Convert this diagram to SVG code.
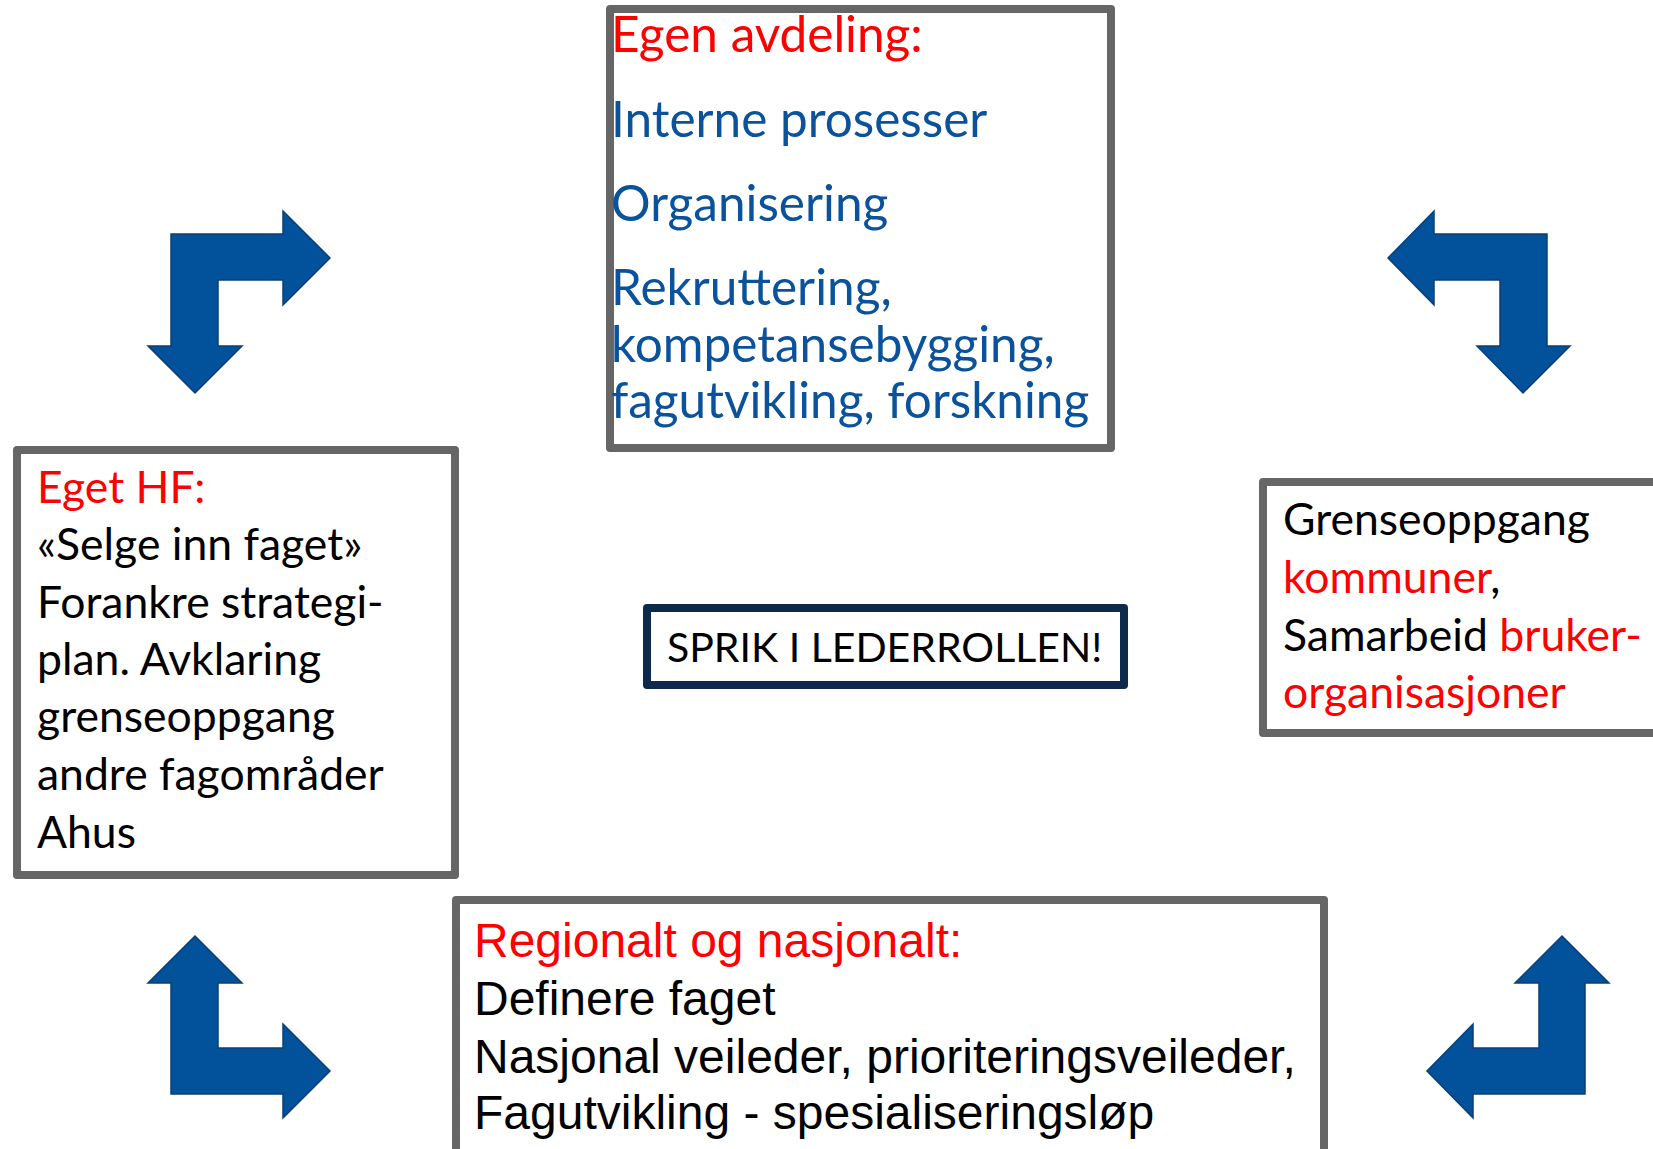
<svg xmlns="http://www.w3.org/2000/svg" width="1653" height="1149" viewBox="0 0 1653 1149">
<style>
.box{fill:#fff;stroke:#666;stroke-width:8;stroke-linejoin:round}
.cal{font-family:Lato,"Open Sans","Liberation Sans",sans-serif}
.ari{font-family:"Liberation Sans",Arial,sans-serif}
.red{fill:#ff0000}
.blue{fill:#0a529c}
.blk{fill:#000}
.arrow{fill:#02519b;stroke:#0b3f74;stroke-width:1.5;stroke-linejoin:miter}
</style>
<rect width="1653" height="1149" fill="#fff"/>
<g id="connectors">
<path class="arrow" d="M171,234 H283 V211 L330,258 L283,305 V280 H218 V346 H242 L195,393 L148,346 H171 Z"/>
<path class="arrow" d="M1547,234 H1434 V211 L1388,258 L1434,305 V280 H1500 V346 H1477 L1523,393 L1570,346 H1547 Z"/>
<path class="arrow" d="M171,1094 H283 V1118 L330,1071 L283,1024 V1048 H218 V983 H242 L195,936 L148,983 H171 Z"/>
<path class="arrow" d="M1585,1094 H1473 V1118 L1427,1071 L1473,1024 V1048 H1539 V983 H1515 L1562,936 L1609,983 H1585 Z"/>
</g>
<g id="egen-avdeling">
<rect class="box" x="610" y="9" width="501" height="439"/>
<text class="cal red" x="611" y="52" font-size="49.5">Egen avdeling:</text>
<text class="cal blue" x="611" y="137" font-size="49.5">Interne prosesser</text>
<text class="cal blue" x="611" y="221" font-size="49.5">Organisering</text>
<text class="cal blue" x="611" y="305" font-size="49.5">Rekruttering,</text>
<text class="cal blue" x="611" y="362" font-size="49.5">kompetansebygging,</text>
<text class="cal blue" x="611" y="418" font-size="49.5">fagutvikling, forskning</text>
</g>
<g id="eget-hf">
<rect class="box" x="17" y="450" width="438" height="425"/>
<text class="cal red" x="37" y="503" font-size="44.5">Eget HF:</text>
<text class="cal blk" x="37" y="560" font-size="44.5">«Selge inn faget»</text>
<text class="cal blk" x="37" y="618" font-size="44.5">Forankre strategi-</text>
<text class="cal blk" x="37" y="675" font-size="44.5">plan. Avklaring</text>
<text class="cal blk" x="37" y="732" font-size="44.5">grenseoppgang</text>
<text class="cal blk" x="37" y="790" font-size="44.5">andre fagområder</text>
<text class="cal blk" x="37" y="848" font-size="44.5">Ahus</text>
</g>
<g id="grenseoppgang">
<rect class="box" x="1263" y="482" width="450" height="251"/>
<text class="cal blk" x="1283" y="535" font-size="44.5">Grenseoppgang</text>
<text class="cal" x="1283" y="593" font-size="44.5"><tspan class="red">kommuner</tspan><tspan class="blk">,</tspan></text>
<text class="cal" x="1283" y="651" font-size="44.5"><tspan class="blk">Samarbeid </tspan><tspan class="red">bruker-</tspan></text>
<text class="cal red" x="1283" y="708" font-size="44.5">organisasjoner</text>
</g>
<g id="sprik">
<rect x="647" y="608" width="477" height="77" fill="#fff" stroke="#0d2a4c" stroke-width="8" stroke-linejoin="round"/>
<text class="cal blk" x="667" y="662" font-size="41">SPRIK I LEDERROLLEN!</text>
</g>
<g id="regionalt">
<rect class="box" x="456" y="900" width="868" height="300"/>
<text class="ari red" x="474" y="957" font-size="48">Regionalt og nasjonalt:</text>
<text class="ari blk" x="474" y="1015" font-size="48">Definere faget</text>
<text class="ari blk" x="474" y="1073" font-size="48">Nasjonal veileder, prioriteringsveileder,</text>
<text class="ari blk" x="474" y="1129" font-size="48">Fagutvikling - spesialiseringsløp</text>
</g>
</svg>
